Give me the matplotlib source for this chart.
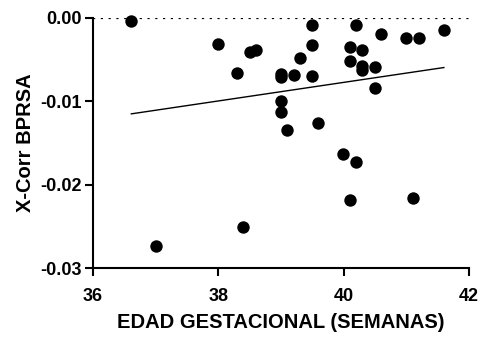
import numpy as np
import matplotlib
matplotlib.use("Agg")
import matplotlib.pyplot as plt

plt.rcParams['font.family'] = ['Liberation Sans', 'DejaVu Sans']
plt.rcParams['font.weight'] = 'bold'

# Edad gestacional (semanas) y X-Corr BPRSA por paciente
edad = [36.61, 37.0, 38.0, 38.3, 38.39, 38.5, 38.6,
        39.0, 39.0, 39.0, 39.0, 39.09, 39.2, 39.3,
        39.49, 39.49, 39.49, 39.59, 39.99, 40.1, 40.1, 40.1,
        40.2, 40.2, 40.29, 40.29, 40.29, 40.5, 40.5, 40.6,
        41.0, 41.1, 41.2, 41.6]
xcorr = [-0.0004, -0.0274, -0.0031, -0.0066, -0.0251, -0.0041, -0.0038,
         -0.0067, -0.0071, -0.0099, -0.0113, -0.0134, -0.0068, -0.0048,
         -0.0009, -0.0033, -0.0070, -0.0126, -0.0163, -0.0035, -0.0052, -0.0218,
         -0.0009, -0.0173, -0.0039, -0.0058, -0.0062, -0.0059, -0.0084, -0.0019,
         -0.0024, -0.0216, -0.0024, -0.0014]

x = np.array(edad)
y = np.array(xcorr)
# recta de regresión lineal
pend, inter = np.polyfit(x, y, 1)

fig = plt.figure(figsize=(4.8, 3.39), dpi=100)
ax = fig.add_axes([0.194, 0.209, 0.783, 0.738])

ax.axhline(0, color='black', linestyle=(0, (1, 2.5)), linewidth=1.6, zorder=1)
ax.scatter(x, y, s=80, color='black', zorder=3, linewidths=0, clip_on=False)
xf = np.array([x.min(), x.max()])
ax.plot(xf, pend * xf + inter, color='black', linewidth=1, zorder=2)

ax.set_xlim(36, 42)
ax.set_ylim(-0.03, 0.0)
ax.set_xticks([36, 38, 40, 42])
ax.set_xticklabels(['36', '38', '40', '42'], fontsize=13, fontweight='bold')
ax.set_yticks([0.0, -0.01, -0.02, -0.03])
ax.set_yticklabels(['0.00', '-0.01', '-0.02', '-0.03'], fontsize=13, fontweight='bold')
ax.spines['top'].set_visible(False)
ax.spines['right'].set_visible(False)
for s in ['left', 'bottom']:
    ax.spines[s].set_linewidth(1.5)
ax.tick_params(axis='x', width=1.5, length=6, pad=8)
ax.tick_params(axis='y', width=1.5, length=6, pad=2)

ax.set_xlabel('EDAD GESTACIONAL (SEMANAS)', fontsize=14.5, fontweight='bold', labelpad=6)
ax.set_ylabel('X-Corr BPRSA', fontsize=14.5, fontweight='bold', labelpad=4)

fig.savefig('out.png', dpi=100)
